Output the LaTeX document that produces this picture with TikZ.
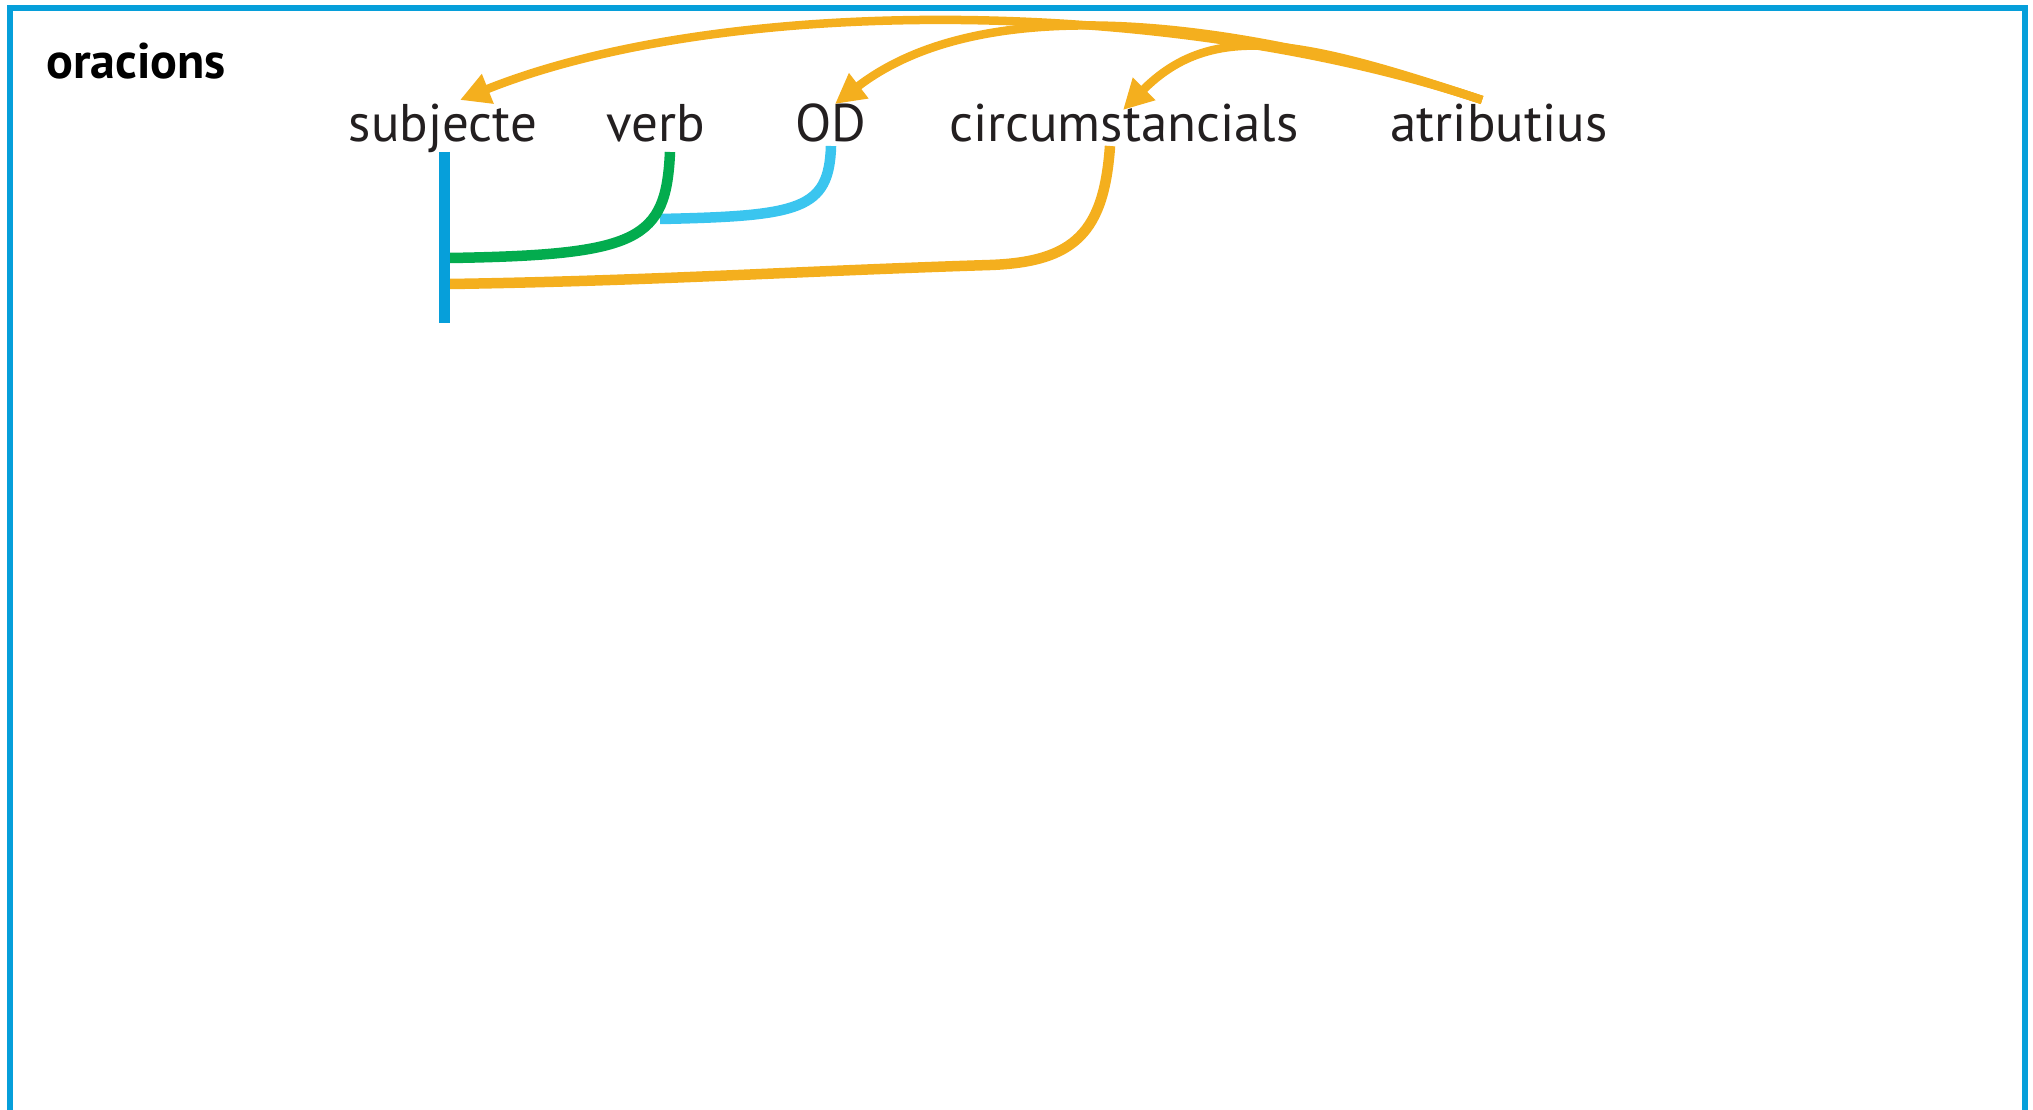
\documentclass[tikz,border=0pt]{standalone}
\usepackage{fontspec}
\setmainfont{PT Sans}
\usetikzlibrary{arrows.meta}
\definecolor{frameblue}{HTML}{069FDA}
\definecolor{lineorange}{HTML}{F4AF1E}
\definecolor{linegreen}{HTML}{03AC4E}
\definecolor{linecyan}{HTML}{3AC5EF}
\definecolor{textgray}{HTML}{231F20}
\tikzset{
  frameline/.style={draw=frameblue, line width=5.5pt},
  lbl/.style={text=textgray, font=\fontsize{53}{60}\selectfont, inner sep=0pt, anchor=base},
  ttl/.style={text=black, font=\fontsize{50}{56}\selectfont\bfseries, inner sep=0pt, anchor=base west},
  conn/.style={line width=10.5pt},
  orarrow/.style={draw=lineorange, line width=8.5pt, -{Triangle[length=30pt,width=30pt]}},
}
\begin{document}
\begin{tikzpicture}[x=1pt,y=-1pt]
\useasboundingbox (0,0) rectangle (2033,1110);
\clip (0,0) rectangle (2033,1110);
\draw[frameline] (10,1130) -- (10,8) -- (2025,8) -- (2025,1130);

\node[ttl] (title) at (46,79) {oracions};

\node[lbl] (subj) at (443,142) {subjecte};
\node[lbl] (verb) at (656,142) {verb};
\node[lbl] (od) at (831,142) {OD};
\node[lbl] (circ) at (1124,142) {circumstancials};
\node[lbl] (atr) at (1499,142) {atributius};

% feet and tips
\coordinate (verbfoot) at (670,152);
\coordinate (odfoot) at (831,146);
\coordinate (circfoot) at (1110,146);
\coordinate (atrfoot) at (1482,100);
\coordinate (subjtip) at (460,100);
\coordinate (odtip) at (835,104);
\coordinate (circtip) at (1123,110);
\coordinate (bartop) at (444.5,152);
\coordinate (barbot) at (444.5,323);
\coordinate (greenend) at (449,258);
\coordinate (cyanend) at (660,219);
\coordinate (orangemid) at (990,265);
\coordinate (orangeend) at (449,284);

% orange circumstancials link
\draw[conn, draw=lineorange] (circfoot) .. controls (1104,232) and (1075,262) .. (orangemid)
  .. controls (800,271) and (650,281) .. (orangeend);
% cyan link
\draw[conn, draw=linecyan] (odfoot) .. controls (829,210) and (800,216) .. (cyanend);
% green link
\draw[conn, draw=linegreen] (verbfoot) .. controls (666,240) and (640,255) .. (greenend);
% subject bar
\draw[draw=frameblue, line width=10.5pt] (bartop) -- (barbot);

% orange arrows from atributius
\draw[orarrow] (atrfoot) .. controls (1167,-5) and (722,-5) .. (subjtip);
\draw[orarrow] (atrfoot) .. controls (1302,40) and (1004,-26) .. (odtip);
\draw[orarrow] (atrfoot) .. controls (1302,40) and (1213,20) .. (circtip);
\end{tikzpicture}
\end{document}
